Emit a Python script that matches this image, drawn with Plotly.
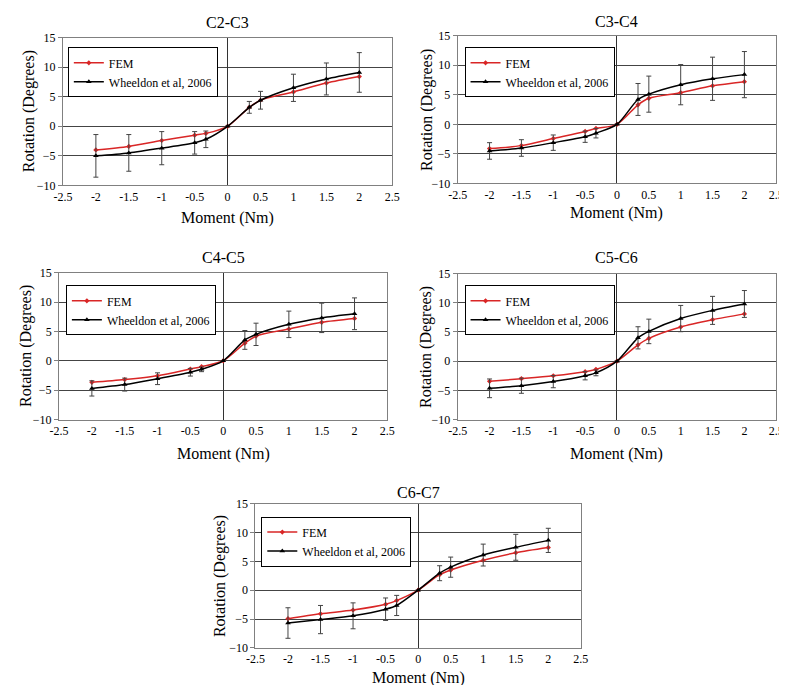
import plotly.graph_objects as go

# ---------------- data ----------------
moment = [-2, -1.5, -1, -0.5, -0.33, 0, 0.33, 0.5, 1, 1.5, 2]
segments = ["C2-C3", "C3-C4", "C4-C5", "C5-C6", "C6-C7"]

fem_c2c3 = [-4.0, -3.4, -2.4, -1.5, -1.2, 0, 3.2, 4.4, 5.8, 7.3, 8.4]
whe_c2c3 = [-5.0, -4.5, -3.7, -2.8, -2.2, 0, 3.2, 4.4, 6.5, 8.0, 9.1]
err_c2c3 = [3.6, 3.1, 2.8, 1.9, 1.4, 0, 1.0, 1.5, 2.3, 2.7, 3.35]

fem_c3c4 = [-4.1, -3.6, -2.4, -1.2, -0.7, 0, 3.3, 4.4, 5.35, 6.5, 7.2]
whe_c3c4 = [-4.5, -4.0, -3.1, -2.1, -1.5, 0, 4.2, 5.1, 6.7, 7.7, 8.4]
err_c3c4 = [1.4, 1.4, 1.3, 0.95, 0.8, 0, 2.7, 3.05, 3.4, 3.65, 3.9]

fem_c4c5 = [-3.67, -3.2, -2.55, -1.4, -1.0, 0, 3.0, 4.2, 5.4, 6.55, 7.2]
whe_c4c5 = [-4.7, -4.05, -3.05, -1.95, -1.45, 0, 3.55, 4.5, 6.2, 7.3, 8.0]
err_c4c5 = [1.3, 1.1, 1.0, 0.65, 0.4, 0, 1.6, 1.9, 2.25, 2.5, 2.7]

fem_c5c6 = [-3.45, -3.0, -2.5, -1.8, -1.4, 0, 2.8, 3.9, 5.85, 7.1, 8.1]
whe_c5c6 = [-4.65, -4.2, -3.5, -2.5, -2.0, 0, 4.0, 5.1, 7.3, 8.7, 9.8]
err_c5c6 = [1.6, 1.3, 1.05, 0.7, 0.5, 0, 1.9, 2.1, 2.25, 2.4, 2.3]

fem_c6c7 = [-4.95, -4.1, -3.45, -2.45, -1.8, 0, 2.7, 3.5, 5.2, 6.5, 7.4]
whe_c6c7 = [-5.7, -5.1, -4.45, -3.3, -2.65, 0, 2.95, 4.0, 6.1, 7.45, 8.65]
err_c6c7 = [2.65, 2.45, 2.25, 1.95, 1.75, 0, 1.3, 1.75, 1.9, 2.25, 2.1]

fem_all = [fem_c2c3, fem_c3c4, fem_c4c5, fem_c5c6, fem_c6c7]
whe_all = [whe_c2c3, whe_c3c4, whe_c4c5, whe_c5c6, whe_c6c7]
err_all = [err_c2c3, err_c3c4, err_c4c5, err_c5c6, err_c6c7]

x_ticks = [-2.5, -2, -1.5, -1, -0.5, 0, 0.5, 1, 1.5, 2, 2.5]
x_ticktext = ["-2.5", "-2", "-1.5", "-1", "-0.5", "0", "0.5", "1", "1.5", "2", "2.5"]
y_ticks = [-10, -5, 0, 5, 10, 15]

# ---------------- layout geometry (pixels) ----------------
W, H = 787, 685
boxes = [(46, 383, 23, 174), (450, 776, 21, 172), (42, 378, 263, 413),
         (450, 776, 264, 413), (243, 576, 499, 646)]
title_y = [8, 7, 248, 248, 487]
xtitle_y = [207, 202, 448, 448, 677]
ytitle_x = [12, 418, 8, 417, 207]
legend_pos = [(51, 33), (457, 33), (49, 276), (457, 276), (249, 512)]

FONT = "Times New Roman, Times, serif"
RED = "#d92626"

traces = []
layout = dict(width=W, height=H, margin=dict(l=0, r=0, t=0, b=0),
              font=dict(family=FONT, color="black"),
              plot_bgcolor="white", paper_bgcolor="white", showlegend=True,
              annotations=[])
for i, seg in enumerate(segments):
    n = "" if i == 0 else str(i + 1)
    lg = "legend" + n
    traces.append(go.Scatter(
        x=moment, y=fem_all[i], name="FEM", mode="lines+markers",
        line=dict(color=RED, width=1.5, shape="spline", smoothing=0.8),
        marker=dict(symbol="diamond", size=4, color=RED),
        xaxis="x" + n, yaxis="y" + n, legend=lg))
    traces.append(go.Scatter(
        x=moment, y=whe_all[i], name="Wheeldon et al, 2006", mode="lines+markers",
        line=dict(color="black", width=1.5, shape="spline", smoothing=0.8),
        marker=dict(symbol="triangle-up", size=5, color="black"),
        error_y=dict(type="data", array=err_all[i], visible=True,
                     color="#444444", thickness=1, width=2.5),
        xaxis="x" + n, yaxis="y" + n, legend=lg))

    l, r, t, b = boxes[i]
    layout["xaxis" + n] = dict(
        domain=[l / W, r / W], range=[-2.5, 2.5], anchor="y" + n,
        tickmode="array", tickvals=x_ticks, ticktext=x_ticktext,
        showgrid=False, zeroline=True, zerolinecolor="#333333", zerolinewidth=1,
        showline=True, mirror=True, linecolor="#808080", linewidth=1,
        ticks="", tickfont=dict(family=FONT, size=12, color="black"))
    layout["yaxis" + n] = dict(
        domain=[1 - b / H, 1 - t / H], range=[-10, 15], anchor="x" + n,
        tickmode="array", tickvals=y_ticks,
        showgrid=True, gridcolor="#444444", gridwidth=1,
        zeroline=True, zerolinecolor="#444444", zerolinewidth=1,
        showline=True, mirror=True, linecolor="#808080", linewidth=1,
        ticks="outside", ticklen=4, tickcolor="#808080",
        tickfont=dict(family=FONT, size=12, color="black"))
    lx, ly = legend_pos[i]
    layout[lg] = dict(
        x=lx / W, y=1 - ly / H, xanchor="left", yanchor="top",
        bgcolor="white", bordercolor="black", borderwidth=1,
        font=dict(family=FONT, size=12, color="black"))

    cx = (l + r) / 2
    layout["annotations"].append(dict(
        text=seg, x=cx / W, y=1 - title_y[i] / H, xref="paper", yref="paper",
        showarrow=False, xanchor="center", yanchor="middle",
        font=dict(family=FONT, size=16, color="black")))
    layout["annotations"].append(dict(
        text="Moment (Nm)", x=cx / W, y=1 - xtitle_y[i] / H, xref="paper",
        yref="paper", showarrow=False, xanchor="center", yanchor="middle",
        font=dict(family=FONT, size=16, color="black")))
    layout["annotations"].append(dict(
        text="Rotation (Degrees)", x=ytitle_x[i] / W, y=1 - (t + b) / 2 / H,
        xref="paper", yref="paper", showarrow=False, textangle=-90,
        xanchor="center", yanchor="middle",
        font=dict(family=FONT, size=16, color="black")))

fig = go.Figure(data=traces, layout=layout)
fig.write_html("out.html")
